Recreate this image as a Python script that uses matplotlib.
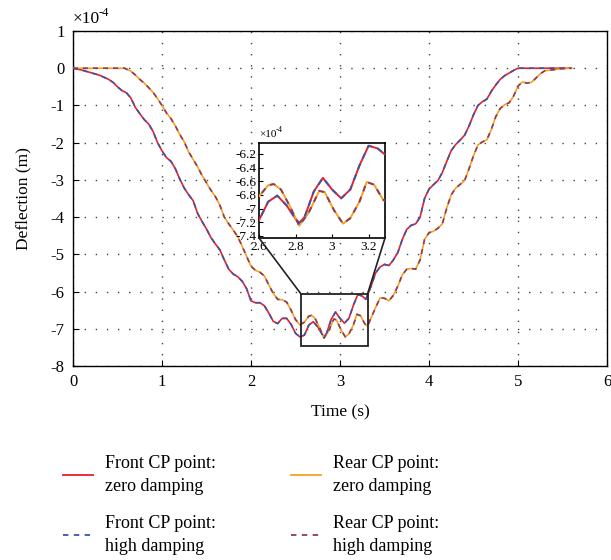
import matplotlib
matplotlib.use("Agg")
import matplotlib.pyplot as plt
from matplotlib.lines import Line2D
from matplotlib.patches import Rectangle, ConnectionPatch

plt.rcParams['font.family'] = ['Liberation Serif', 'DejaVu Serif']
plt.rcParams['axes.unicode_minus'] = False

# ---------------- data (deflection in 1e-4 m) ----------------
t_front = [0.0, 0.1, 0.2, 0.3, 0.4, 0.45, 0.5, 0.55, 0.6, 0.65, 0.7, 0.75, 0.8, 0.85, 0.9,
           0.95, 1.0, 1.05, 1.1, 1.15, 1.2, 1.25, 1.3, 1.35, 1.4, 1.45, 1.5, 1.55, 1.6, 1.65,
           1.7, 1.75, 1.8, 1.85, 1.9, 1.95, 2.0, 2.05, 2.1, 2.15, 2.2, 2.25, 2.3, 2.35, 2.4,
           2.45, 2.5, 2.55, 2.6, 2.65, 2.7, 2.75, 2.8, 2.82, 2.85, 2.9, 2.95, 3.0, 3.05, 3.1,
           3.15, 3.2, 3.25, 3.29, 3.35, 3.4, 3.45, 3.5, 3.55, 3.6, 3.65, 3.7, 3.75, 3.8, 3.85,
           3.9, 3.95, 4.0, 4.05, 4.1, 4.15, 4.2, 4.25, 4.3, 4.35, 4.4, 4.45, 4.5, 4.55, 4.6,
           4.65, 4.7, 4.75, 4.8, 4.85, 4.9, 4.95, 5.0, 5.6]
front_zero = [0.0, -0.05, -0.12, -0.19, -0.30, -0.38, -0.50, -0.60, -0.66, -0.80, -1.05, -1.22,
              -1.38, -1.50, -1.70, -2.00, -2.22, -2.40, -2.50, -2.70, -2.98, -3.22, -3.40, -3.56,
              -3.90, -4.12, -4.32, -4.55, -4.72, -4.88, -5.15, -5.40, -5.53, -5.60, -5.72, -5.92,
              -6.25, -6.30, -6.30, -6.38, -6.58, -6.80, -6.86, -6.72, -6.72, -6.88, -7.12, -7.22,
              -7.17, -6.90, -6.81, -6.95, -7.15, -7.21, -7.12, -6.75, -6.55, -6.72, -6.85, -6.72,
              -6.37, -6.08, -6.12, -6.21, -5.85, -5.50, -5.34, -5.27, -5.30, -5.15, -4.95, -4.60,
              -4.33, -4.22, -4.18, -4.00, -3.50, -3.25, -3.13, -3.02, -2.80, -2.50, -2.21, -2.05,
              -1.93, -1.80, -1.55, -1.25, -1.00, -0.90, -0.83, -0.62, -0.45, -0.30, -0.20, -0.13,
              -0.06, 0.0, 0.0]
front_high = list(front_zero)

t_rear = [0.0, 0.58, 0.65, 0.7, 0.75, 0.8, 0.85, 0.9, 0.95, 1.0, 1.05, 1.1, 1.15, 1.2, 1.25,
          1.3, 1.35, 1.4, 1.45, 1.5, 1.55, 1.6, 1.65, 1.7, 1.75, 1.8, 1.85, 1.9, 1.95, 2.0,
          2.05, 2.1, 2.15, 2.2, 2.25, 2.3, 2.35, 2.4, 2.45, 2.5, 2.55, 2.6, 2.65, 2.68, 2.72,
          2.77, 2.82, 2.87, 2.93, 2.96, 3.01, 3.06, 3.1, 3.15, 3.19, 3.23, 3.28, 3.31, 3.35,
          3.4, 3.45, 3.5, 3.55, 3.6, 3.65, 3.7, 3.75, 3.8, 3.85, 3.9, 3.95, 4.0, 4.05, 4.1,
          4.15, 4.2, 4.25, 4.3, 4.35, 4.4, 4.45, 4.5, 4.55, 4.6, 4.65, 4.7, 4.75, 4.8, 4.85,
          4.9, 4.95, 5.0, 5.05, 5.1, 5.15, 5.2, 5.25, 5.3, 5.4, 5.5, 5.6]
rear_zero = [0.0, 0.0, -0.08, -0.18, -0.30, -0.40, -0.52, -0.65, -0.82, -1.00, -1.20, -1.35,
             -1.55, -1.78, -1.98, -2.25, -2.45, -2.65, -2.88, -3.08, -3.28, -3.45, -3.68, -4.00,
             -4.18, -4.35, -4.52, -4.78, -5.05, -5.32, -5.43, -5.48, -5.58, -5.82, -6.05, -6.21,
             -6.22, -6.28, -6.50, -6.75, -6.90, -6.82, -6.66, -6.64, -6.72, -6.97, -7.25, -7.07,
             -6.74, -6.76, -7.02, -7.22, -7.14, -6.90, -6.61, -6.65, -6.87, -6.93, -6.70, -6.43,
             -6.17, -6.18, -6.25, -6.10, -5.85, -5.55, -5.40, -5.38, -5.40, -5.15, -4.60, -4.42,
             -4.38, -4.30, -4.18, -3.75, -3.40, -3.22, -3.12, -3.02, -2.70, -2.35, -2.06, -1.98,
             -1.92, -1.65, -1.30, -1.08, -0.98, -0.93, -0.75, -0.48, -0.37, -0.40, -0.38, -0.27,
             -0.15, -0.07, -0.04, -0.01, 0.0]
rear_high = list(rear_zero)

labels = ["Front CP point:\nzero damping", "Front CP point:\nhigh damping",
          "Rear CP point:\nzero damping", "Rear CP point:\nhigh damping"]
x_ticks = [0, 1, 2, 3, 4, 5, 6]
y_ticks = [1, 0, -1, -2, -3, -4, -5, -6, -7, -8]
inset_x_ticks = [2.6, 2.8, 3.0, 3.2]
inset_x_labels = ["2.6", "2.8", "3", "3.2"]
inset_y_ticks = [-6.2, -6.4, -6.6, -6.8, -7.0, -7.2, -7.4]
inset_y_labels = ["-6.2", "-6.4", "-6.6", "-6.8", "-7", "-7.2", "-7.4"]

# ---------------- styles ----------------
c_red = '#E8202A'
c_blue = '#3B55A8'
c_orange = '#F5A21E'
c_purple = '#8B3A62'
W, H = 611, 560

fig = plt.figure(figsize=(W / 100, H / 100), dpi=100)
ax = fig.add_axes([73 / W, 1 - 366 / H, (607 - 73) / W, (366 - 31) / H])


def draw(a, lw=1.2):
    a.plot(t_front, front_zero, color=c_red, lw=lw, zorder=3)
    a.plot(t_front, front_high, color=c_blue, lw=lw, ls=(0, (3, 3)), zorder=4)
    a.plot(t_rear, rear_zero, color=c_orange, lw=lw, zorder=3)
    a.plot(t_rear, rear_high, color=c_purple, lw=lw, ls=(0, (3, 3)), zorder=4)


def exponent_label(a, fs_main, fs_sup, dx):
    a.annotate('\u00d710', xy=(0, 1), xycoords='axes fraction', xytext=(0, 3),
               textcoords='offset points', fontsize=fs_main, ha='left', va='bottom')
    a.annotate('-4', xy=(0, 1), xycoords='axes fraction', xytext=(dx, 3 + fs_main * 0.45),
               textcoords='offset points', fontsize=fs_sup, ha='left', va='bottom')


draw(ax)
ax.set_xlim(0, 6)
ax.set_ylim(-8, 1)
ax.set_xticks(x_ticks)
ax.set_xticklabels([str(v) for v in x_ticks])
ax.set_yticks(y_ticks)
ax.set_yticklabels([str(v) for v in y_ticks])
ax.grid(True, color='#444444', linestyle=(0, (1, 7)), linewidth=1.0)
ax.tick_params(direction='in', length=4, labelsize=12, pad=6, top=False, right=False)
for s in ax.spines.values():
    s.set_linewidth(1.0)
ax.set_xlabel('Time (s)', fontsize=12.5, labelpad=10)
ax.set_ylabel('Deflection (m)', fontsize=12.5, labelpad=14)
exponent_label(ax, 12.5, 9, 18.5)

# zoom rectangle
x0, x1, y0, y1 = 2.56, 3.31, -7.45, -6.06
ax.add_patch(Rectangle((x0, y0), x1 - x0, y1 - y0, fill=False, ec='#222222', lw=1.3, zorder=6))

# inset
ins = fig.add_axes([259 / W, 1 - 238 / H, (385 - 259) / W, (238 - 143) / H])
draw(ins, lw=1.4)
ins.set_xlim(2.6, 3.29)
ins.set_ylim(-7.43, -6.04)
ins.set_xticks(inset_x_ticks)
ins.set_xticklabels(inset_x_labels)
ins.set_yticks(inset_y_ticks)
ins.set_yticklabels(inset_y_labels)
ins.tick_params(direction='in', length=3, labelsize=9.5, pad=2)
for s in ins.spines.values():
    s.set_linewidth(1.2)
exponent_label(ins, 8, 6, 12)

for (xa, xb) in [(x0, 2.6), (x1, 3.29)]:
    cp = ConnectionPatch(xyA=(xa, y1), coordsA=ax.transData,
                         xyB=(xb, -7.43), coordsB=ins.transData,
                         color='#222222', lw=1.2)
    fig.add_artist(cp)

# legend (manual, figure coords)
entries = [
    (63, 475, c_red, '-', labels[0]),
    (63, 535, c_blue, (0, (3, 3)), labels[1]),
    (291, 475, c_orange, '-', labels[2]),
    (291, 535, c_purple, (0, (3, 3)), labels[3]),
]
for (px, py, col, ls, lab) in entries:
    fig.add_artist(Line2D([px / W, (px + 30) / W], [1 - py / H, 1 - py / H],
                          color=col, ls=ls, lw=1.3))
    fig.text((px + 42) / W, 1 - py / H, lab, fontsize=13, va='center', ha='left',
             linespacing=1.45)

fig.savefig('out.png', dpi=100)
